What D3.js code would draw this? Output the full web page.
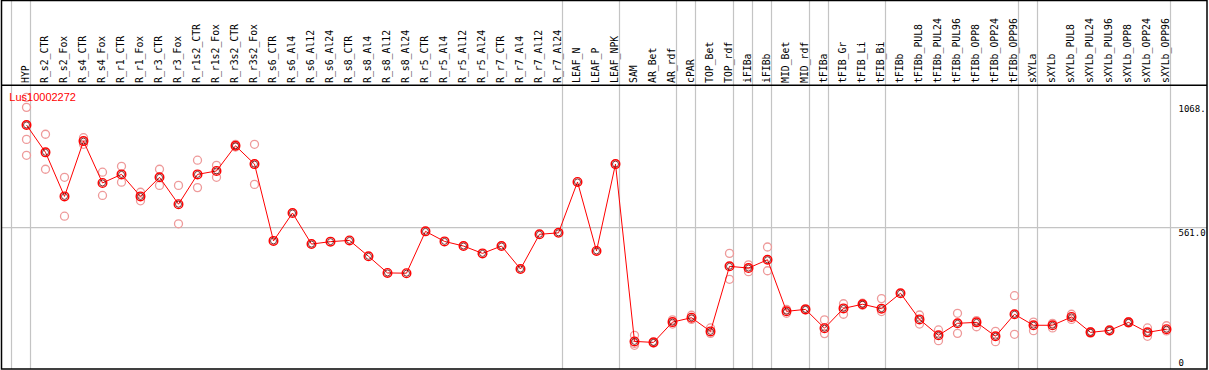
<!DOCTYPE html>
<html>
<head>
<meta charset="utf-8">
<script src="https://cdn.jsdelivr.net/npm/d3@7"></script>
<style>
  body { margin: 0; background: #fff; }
  svg { display: block; }
</style>
</head>
<body>
<svg id="chart" width="1209" height="370"></svg>
<script>
var gene = "Lus10002272";

var samples = ["HYP", "R_s2_CTR", "R_s2_Fox", "R_s4_CTR", "R_s4_Fox", "R_r1_CTR", "R_r1_Fox",
  "R_r3_CTR", "R_r3_Fox", "R_r1s2_CTR", "R_r1s2_Fox", "R_r3s2_CTR", "R_r3s2_Fox",
  "R_s6_CTR", "R_s6_Al4", "R_s6_Al12", "R_s6_Al24", "R_s8_CTR", "R_s8_Al4", "R_s8_Al12", "R_s8_Al24",
  "R_r5_CTR", "R_r5_Al4", "R_r5_Al12", "R_r5_Al24", "R_r7_CTR", "R_r7_Al4", "R_r7_Al12", "R_r7_Al24",
  "LEAF_N", "LEAF_P", "LEAF_NPK", "SAM", "AR_Bet", "AR_rdf", "cPAR", "TOP_Bet", "TOP_rdf",
  "iFIBa", "iFIBb", "MID_Bet", "MID_rdf", "tFIBa", "tFIB_Gr", "tFIB_Li", "tFIB_Bi", "tFIBb",
  "tFIBb_PUL8", "tFIBb_PUL24", "tFIBb_PUL96", "tFIBb_OPP8", "tFIBb_OPP24", "tFIBb_OPP96",
  "sXYLa", "sXYLb", "sXYLb_PUL8", "sXYLb_PUL24", "sXYLb_PUL96", "sXYLb_OPP8", "sXYLb_OPP24", "sXYLb_OPP96"];

// mean expression per sample
var means = [981, 869, 689, 915, 744, 779, 689, 767, 657, 779, 793, 896, 821,
  507, 621, 494, 504, 509, 444, 376, 375,
  546, 505, 486, 456, 486, 392, 534, 540,
  748, 466, 821, 96, 92, 175, 193, 137, 403,
  396, 430, 219, 227, 150, 231, 248, 230, 293,
  186, 121, 170, 174, 117, 207,
  162, 162, 196, 133, 141, 174, 133, 146];

// replicate values (empty = single measure)
var reps = [[1094, 1053, 922, 857], [943, 800], [767, 608], [929, 902], [788, 693], [812, 747], [706, 671],
  [800, 734], [734, 577], [837, 725], [816, 767], [902, 891], [902, 738],
  [], [], [], [], [], [], [], [],
  [], [], [], [], [], [], [], [],
  [], [], [], [121, 88, 80], [95, 90], [184, 167], [203, 186], [151, 129], [456, 350],
  [409, 381], [482, 385], [227, 211], [230, 225], [184, 128], [250, 207], [252, 244], [271, 218], [],
  [204, 167], [143, 99], [211, 129], [181, 156], [137, 95], [283, 125],
  [175, 140], [170, 151], [207, 186], [136, 130], [144, 139], [177, 171], [151, 117], [160, 139]];

// vertical separators come after these samples (first one is left edge)
var groupEnds = [null, "HYP", "R_r7_Al24", "LEAF_NPK", "AR_rdf", "cPAR", "TOP_rdf", "iFIBa", "iFIBb",
  "MID_rdf", "tFIBa", "tFIB_Bi", "tFIBb_OPP96", "sXYLa", "sXYLb_OPP96"];

var tickValues = [0, 561.0, 1068];
var tickLabels = ["0", "561.0", "1068."];
var gridValues = [561.0];

var svg = d3.select("#chart");

var x = d3.scalePoint().domain(samples).range([26.5, 1166.5]);
var step = x.step();
var y = d3.scaleLinear().domain([0, 1068]).range([364.9, 103.7]);

function sepX(name) {
  return name == null ? x(samples[0]) - step + 4 : x(name) + 4;
}

// gray separators
svg.append("g").selectAll("line").data(groupEnds).enter().append("line")
  .attr("x1", d => sepX(d)).attr("x2", d => sepX(d))
  .attr("y1", 0).attr("y2", 369)
  .attr("stroke", "#c4c4c4").attr("stroke-width", 1.2);

svg.append("g").selectAll("line").data(gridValues).enter().append("line")
  .attr("x1", 1).attr("x2", 1207)
  .attr("y1", d => y(d)).attr("y2", d => y(d))
  .attr("stroke", "#c4c4c4").attr("stroke-width", 1.2);

// frame
svg.append("rect").attr("x", 1.5).attr("y", 0.5).attr("width", 1205.5).attr("height", 368.5)
  .attr("fill", "none").attr("stroke", "#000").attr("stroke-width", 1.5);
svg.append("line").attr("x1", 1).attr("x2", 1207).attr("y1", 85.3).attr("y2", 85.3)
  .attr("stroke", "#000").attr("stroke-width", 1.5);

// column labels
svg.append("g").selectAll("text").data(samples).enter().append("text")
  .attr("transform", d => "translate(" + Math.round(x(d) + 2.5) + ",83) rotate(-90)")
  .attr("font-family", "DejaVu Sans Mono").attr("font-size", "9.8px")
  .attr("fill", "#000")
  .text(d => d);

// replicates
var repPts = [];
reps.forEach(function (r, i) {
  r.forEach(function (v) { repPts.push({ s: samples[i], v: v }); });
});
svg.append("g").selectAll("circle").data(repPts).enter().append("circle")
  .attr("cx", d => x(d.s)).attr("cy", d => y(d.v)).attr("r", 4)
  .attr("fill", "none").attr("stroke", "#ee9a9a").attr("stroke-width", 1.3);

// mean line
var line = d3.line().x((d, i) => x(samples[i])).y(d => y(d));
svg.append("path").datum(means).attr("d", line)
  .attr("fill", "none").attr("stroke", "#ff0000").attr("stroke-width", 1);

var mg = svg.append("g").selectAll("g").data(means).enter().append("g")
  .attr("transform", (d, i) => "translate(" + x(samples[i]) + "," + y(d) + ")");
mg.append("circle").attr("r", 4.3)
  .attr("fill", "none").attr("stroke", "#ff0000").attr("stroke-width", 1.4);
mg.append("circle").attr("r", 3)
  .attr("fill", "none").attr("stroke", "#5a0000").attr("stroke-width", 0.8);

// gene name
svg.append("text").attr("x", 9.3).attr("y", 100.7)
  .attr("font-family", "Liberation Sans").attr("font-size", "11px")
  .attr("fill", "#ff0000").text(gene);

// axis labels on right
svg.append("g").selectAll("text").data(tickValues).enter().append("text")
  .attr("x", 1178.5)
  .attr("y", d => Math.min(y(d) + 8, 366))
  .attr("font-family", "DejaVu Sans Mono").attr("font-size", "9px")
  .attr("fill", "#000")
  .text((d, i) => tickLabels[i]);
</script>
</body>
</html>
